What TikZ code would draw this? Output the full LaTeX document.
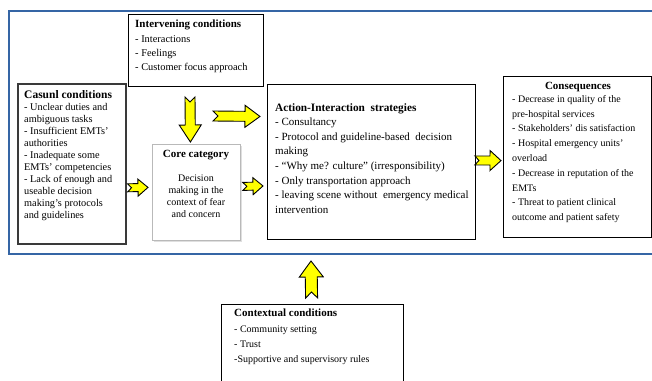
\documentclass[tikz,border=0pt]{standalone}
\usepackage{fontspec}
\setmainfont{Liberation Serif}
\usetikzlibrary{calc,shadows}
\definecolor{frameblue}{HTML}{3565A5}
\definecolor{arrowyellow}{HTML}{FFFF00}
\definecolor{casualgray}{HTML}{3A3A3A}
\newcommand\blockarrow[6]{% start, end, shaft half width, head half width, head length, notch depth
  \draw[blockarr]
    ($(#1)!#3!90:(#2)$) -- ($(#1)!#6!(#2)$) -- ($(#1)!#3!-90:(#2)$)
    -- ($(#2)!#5!(#1)!#3!-90:(#2)$) -- ($(#2)!#5!(#1)!#4!-90:(#2)$)
    -- (#2)
    -- ($(#2)!#5!(#1)!#4!90:(#2)$) -- ($(#2)!#5!(#1)!#3!90:(#2)$) -- cycle;
}
\tikzset{
  box/.style={draw=black, line width=0.9pt, fill=white, inner sep=0pt, anchor=north west},
  casualbox/.style={box, draw=casualgray, line width=1.6pt},
  corebox/.style={box, draw=gray!55, line width=0.8pt,
    drop shadow={shadow xshift=1.2pt, shadow yshift=-1.2pt, opacity=0.25}},
  txt/.style={inner sep=0pt, anchor=north west, align=left, font=\fontsize{10}{14.5}\selectfont},
  ctxt/.style={inner sep=0pt, align=center, font=\fontsize{10}{11.8}\selectfont},
  blockarr/.style={draw=black, line width=0.9pt, fill=arrowyellow, line join=miter},
}
\begin{document}
\begin{tikzpicture}[x=1pt,y=-1pt]
\useasboundingbox (0,0) rectangle (652,380);
\fill[white] (0,0) rectangle (652,380);
% blue frame
\draw[frameblue, line width=1.3pt] (9,11) rectangle (670,254);

% boxes
\node[box, minimum width=135pt, minimum height=72pt] (interv) at (128,14) {};
\node[casualbox, minimum width=108pt, minimum height=160pt] (casual) at (17,83) {};
\node[corebox, minimum width=88pt, minimum height=96pt] (core) at (152,144) {};
\node[box, minimum width=208pt, minimum height=155pt] (action) at (267,84) {};
\node[box, line width=1.2pt, minimum width=148pt, minimum height=161pt] (conseq) at (503,76) {};
\node[box, line width=1.2pt, minimum width=182pt, minimum height=90pt] (context) at (221,304) {};

% texts
\node[txt, font=\fontsize{10.4}{14.3}\selectfont] (intervtxt) at (135,20) {{\fontsize{11}{12}\selectfont\textbf{Intervening conditions}}\\- Interactions\\- Feelings\\- Customer focus approach};
\node[txt, font=\fontsize{10.3}{12}\selectfont] (casualtxt) at (24,90) {{\fontsize{11.5}{12}\selectfont\textbf{Casunl conditions}}\\- Unclear duties and\\ambiguous tasks\\- Insufficient EMTs’\\authorities\\- Inadequate some\\EMTs’ competencies\\- Lack of enough and\\useable decision\\making’s protocols\\and guidelines};
\node[ctxt, font=\fontsize{11}{12}\selectfont] (coretitle) at (196,155) {\textbf{Core category}};
\node[ctxt, anchor=north] (corebody) at (196,175) {Decision\\making in the\\context of fear\\and concern};
\node[txt, font=\fontsize{11}{14.6}\selectfont] (actiontxt) at (275,103) {{\fontsize{11.3}{12}\selectfont\textbf{Action-Interaction\ \ strategies}}\\- Consultancy\\- Protocol and guideline-based\ \ decision\\making\\- “Why me? culture” (irresponsibility)\\- Only transportation approach\\- leaving scene without\ \ emergency medical\\intervention};
\node[ctxt, font=\fontsize{11}{12}\selectfont] (conseqtitle) at (578,87) {\textbf{Consequences}};
\node[txt, font=\fontsize{10}{14.8}\selectfont] (conseqtxt) at (512,95) {- Decrease in quality of the\\pre-hospital services\\- Stakeholders’ dis satisfaction\\- Hospital emergency units’\\overload\\- Decrease in reputation of the\\EMTs\\- Threat to patient clinical\\outcome and patient safety};
\node[txt, font=\fontsize{10}{15.3}\selectfont] (contexttxt) at (234,309) {{\fontsize{11}{12}\selectfont\textbf{Contextual conditions}}\\- Community setting\\- Trust\\-Supportive and supervisory rules};

% arrow end points
\coordinate (dnS) at (190,97);   \coordinate (dnE) at ($(core.north)+(-6,-2)$);
\coordinate (rtS) at (213,116);  \coordinate (rtE) at ($(action.west)+(-7,-45.5)$);
\coordinate (caS) at ($(casual.east)+(1,24)$);  \coordinate (caE) at ($(core.west)+(-4,-5)$);
\coordinate (coS) at ($(core.east)+(2,-6)$);    \coordinate (coE) at ($(action.west)+(-4,24)$);
\coordinate (acS) at ($(action.east)+(-1,-1.5)$); \coordinate (acE) at ($(conseq.west)+(-2,3.5)$);
\coordinate (upS) at ($(context.north)+(-1,-6)$); \coordinate (upE) at (311,261);

\blockarrow{dnS}{dnE}{5pt}{11pt}{17pt}{5pt}
\blockarrow{rtS}{rtE}{5pt}{11pt}{15pt}{5pt}
\blockarrow{caS}{caE}{4pt}{8.5pt}{10pt}{4pt}
\blockarrow{coS}{coE}{4pt}{8.5pt}{10pt}{4pt}
\blockarrow{acS}{acE}{4.5pt}{10pt}{11pt}{4pt}
\blockarrow{upS}{upE}{6pt}{12pt}{16pt}{6pt}
\end{tikzpicture}
\end{document}
